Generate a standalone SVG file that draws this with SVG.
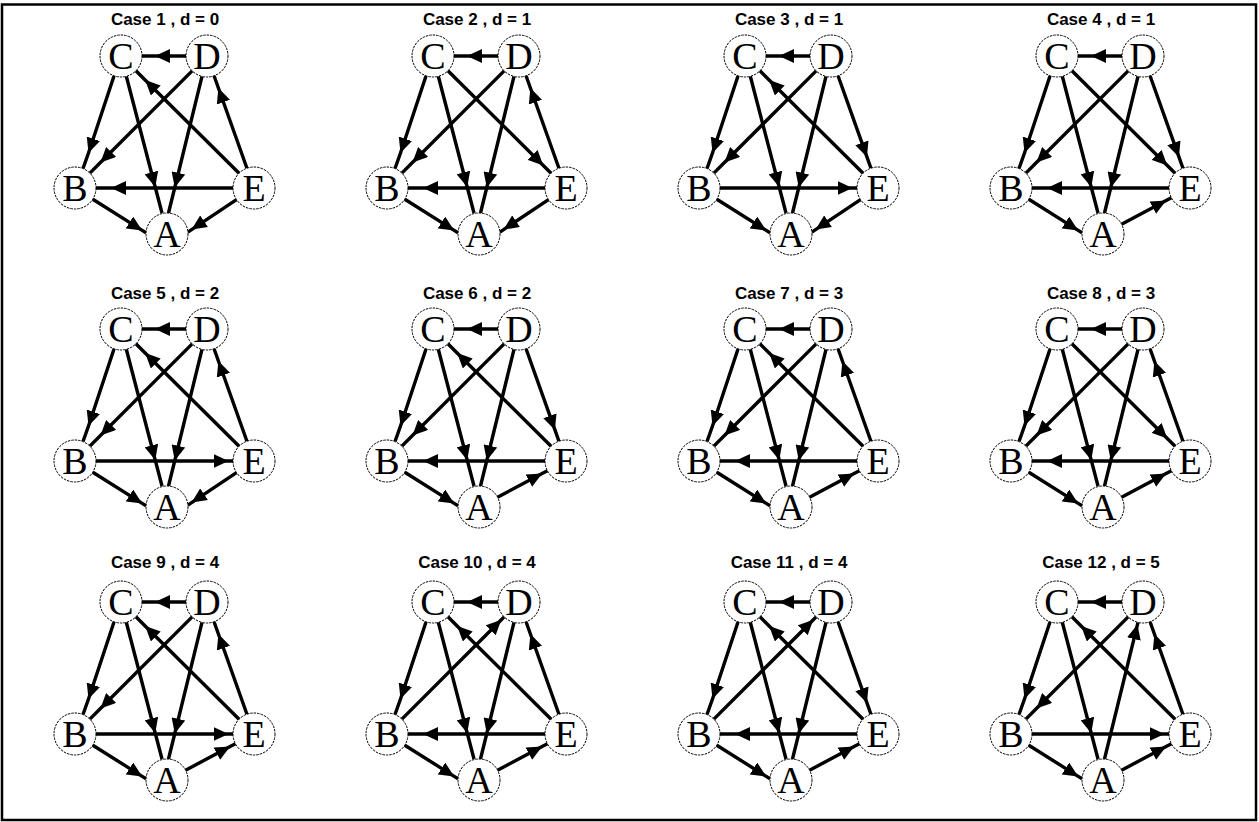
<svg xmlns="http://www.w3.org/2000/svg" width="1259" height="822" viewBox="0 0 1259 822">
<style>
.e{fill:none;stroke:#000;stroke-width:3.4;marker-mid:url(#ah)}
.n circle{fill:#fff;stroke:#000;stroke-width:1;stroke-dasharray:2.5 1}
.n text{font-family:"Liberation Serif","Times New Roman",serif;font-size:38px;text-anchor:middle;fill:#000}
.t{font-family:"Liberation Sans",Arial,sans-serif;font-weight:bold;font-size:17px;text-anchor:middle;fill:#000}
</style>
<defs>
<marker id="ah" markerUnits="userSpaceOnUse" markerWidth="15" markerHeight="14" refX="15" refY="7" orient="auto" viewBox="0 0 15 14"><path d="M0,0L15,7L0,14z" fill="#000"/></marker>
</defs>
<rect x="2" y="4.5" width="1254" height="815.5" fill="#fff" stroke="#000" stroke-width="2.5"/>

<g id="case1">
<text class="t" x="165" y="24.5">Case 1 , d = 0</text>
<g id="case1-edges">
<path class="e" d="M186,56L155,56L142,56"/>
<path class="e" d="M114.09,75.83L88.5,153L83,168.5"/>
<path class="e" d="M126.3,76.3L155.2,187L162,213"/>
<path class="e" d="M239.09,173.21L145.13,79.95L135.91,70.79"/>
<path class="e" d="M192.15,70.85L100.46,162.54L89.85,173.15"/>
<path class="e" d="M202,76.4L174.8,187.5L168.5,213"/>
<path class="e" d="M246.96,168.22L218.4,88.03L214.04,75.78"/>
<path class="e" d="M233,188L111,188L96,188"/>
<path class="e" d="M92.8,199.2L142.2,230.4L146.1,232.8"/>
<path class="e" d="M236.5,199.6L191.6,229.6L187.9,232.1"/>
</g>
<g id="case1-C" class="n"><circle cx="121" cy="56" r="21"/><text x="121" y="69">C</text></g>
<g id="case1-D" class="n"><circle cx="207" cy="56" r="21"/><text x="207" y="69">D</text></g>
<g id="case1-B" class="n"><circle cx="75" cy="188" r="21"/><text x="75" y="201">B</text></g>
<g id="case1-E" class="n"><circle cx="254" cy="188" r="21"/><text x="254" y="201">E</text></g>
<g id="case1-A" class="n"><circle cx="167" cy="234" r="21"/><text x="167" y="247">A</text></g>
</g>

<g id="case2" transform="translate(312,0)">
<text class="t" x="165" y="24.5">Case 2 , d = 1</text>
<g id="case2-edges">
<path class="e" d="M186,56L155,56L142,56"/>
<path class="e" d="M114.09,75.83L88.5,153L83,168.5"/>
<path class="e" d="M126.3,76.3L155.2,187L162,213"/>
<path class="e" d="M135.91,70.79L231.29,165.46L239.09,173.21"/>
<path class="e" d="M192.15,70.85L100.46,162.54L89.85,173.15"/>
<path class="e" d="M202,76.4L174.8,187.5L168.5,213"/>
<path class="e" d="M246.96,168.22L218.4,88.03L214.04,75.78"/>
<path class="e" d="M233,188L111,188L96,188"/>
<path class="e" d="M92.8,199.2L142.2,230.4L146.1,232.8"/>
<path class="e" d="M236.5,199.6L191.6,229.6L187.9,232.1"/>
</g>
<g id="case2-C" class="n"><circle cx="121" cy="56" r="21"/><text x="121" y="69">C</text></g>
<g id="case2-D" class="n"><circle cx="207" cy="56" r="21"/><text x="207" y="69">D</text></g>
<g id="case2-B" class="n"><circle cx="75" cy="188" r="21"/><text x="75" y="201">B</text></g>
<g id="case2-E" class="n"><circle cx="254" cy="188" r="21"/><text x="254" y="201">E</text></g>
<g id="case2-A" class="n"><circle cx="167" cy="234" r="21"/><text x="167" y="247">A</text></g>
</g>

<g id="case3" transform="translate(624,0)">
<text class="t" x="165" y="24.5">Case 3 , d = 1</text>
<g id="case3-edges">
<path class="e" d="M186,56L155,56L142,56"/>
<path class="e" d="M114.09,75.83L88.5,153L83,168.5"/>
<path class="e" d="M126.3,76.3L155.2,187L162,213"/>
<path class="e" d="M239.09,173.21L145.13,79.95L135.91,70.79"/>
<path class="e" d="M192.15,70.85L100.46,162.54L89.85,173.15"/>
<path class="e" d="M202,76.4L174.8,187.5L168.5,213"/>
<path class="e" d="M214.04,75.78L242.93,156.91L246.96,168.22"/>
<path class="e" d="M96,188L228.5,188L233,188"/>
<path class="e" d="M92.8,199.2L142.2,230.4L146.1,232.8"/>
<path class="e" d="M236.5,199.6L191.6,229.6L187.9,232.1"/>
</g>
<g id="case3-C" class="n"><circle cx="121" cy="56" r="21"/><text x="121" y="69">C</text></g>
<g id="case3-D" class="n"><circle cx="207" cy="56" r="21"/><text x="207" y="69">D</text></g>
<g id="case3-B" class="n"><circle cx="75" cy="188" r="21"/><text x="75" y="201">B</text></g>
<g id="case3-E" class="n"><circle cx="254" cy="188" r="21"/><text x="254" y="201">E</text></g>
<g id="case3-A" class="n"><circle cx="167" cy="234" r="21"/><text x="167" y="247">A</text></g>
</g>

<g id="case4" transform="translate(936,0)">
<text class="t" x="165" y="24.5">Case 4 , d = 1</text>
<g id="case4-edges">
<path class="e" d="M186,56L155,56L142,56"/>
<path class="e" d="M114.09,75.83L88.5,153L83,168.5"/>
<path class="e" d="M126.3,76.3L155.2,187L162,213"/>
<path class="e" d="M135.91,70.79L231.29,165.46L239.09,173.21"/>
<path class="e" d="M192.15,70.85L100.46,162.54L89.85,173.15"/>
<path class="e" d="M202,76.4L174.8,187.5L168.5,213"/>
<path class="e" d="M214.04,75.78L242.93,156.91L246.96,168.22"/>
<path class="e" d="M233,188L111,188L96,188"/>
<path class="e" d="M92.8,199.2L142.2,230.4L146.1,232.8"/>
<path class="e" d="M185.57,224.18L230.13,200.62L235.43,197.82"/>
</g>
<g id="case4-C" class="n"><circle cx="121" cy="56" r="21"/><text x="121" y="69">C</text></g>
<g id="case4-D" class="n"><circle cx="207" cy="56" r="21"/><text x="207" y="69">D</text></g>
<g id="case4-B" class="n"><circle cx="75" cy="188" r="21"/><text x="75" y="201">B</text></g>
<g id="case4-E" class="n"><circle cx="254" cy="188" r="21"/><text x="254" y="201">E</text></g>
<g id="case4-A" class="n"><circle cx="167" cy="234" r="21"/><text x="167" y="247">A</text></g>
</g>

<g id="case5" transform="translate(0,273)">
<text class="t" x="165" y="25.5">Case 5 , d = 2</text>
<g id="case5-edges">
<path class="e" d="M186,56L155,56L142,56"/>
<path class="e" d="M114.09,75.83L88.5,153L83,168.5"/>
<path class="e" d="M126.3,76.3L155.2,187L162,213"/>
<path class="e" d="M239.09,173.21L145.13,79.95L135.91,70.79"/>
<path class="e" d="M192.15,70.85L100.46,162.54L89.85,173.15"/>
<path class="e" d="M202,76.4L174.8,187.5L168.5,213"/>
<path class="e" d="M246.96,168.22L218.4,88.03L214.04,75.78"/>
<path class="e" d="M96,188L228.5,188L233,188"/>
<path class="e" d="M92.8,199.2L142.2,230.4L146.1,232.8"/>
<path class="e" d="M236.5,199.6L191.6,229.6L187.9,232.1"/>
</g>
<g id="case5-C" class="n"><circle cx="121" cy="56" r="21"/><text x="121" y="69">C</text></g>
<g id="case5-D" class="n"><circle cx="207" cy="56" r="21"/><text x="207" y="69">D</text></g>
<g id="case5-B" class="n"><circle cx="75" cy="188" r="21"/><text x="75" y="201">B</text></g>
<g id="case5-E" class="n"><circle cx="254" cy="188" r="21"/><text x="254" y="201">E</text></g>
<g id="case5-A" class="n"><circle cx="167" cy="234" r="21"/><text x="167" y="247">A</text></g>
</g>

<g id="case6" transform="translate(312,273)">
<text class="t" x="165" y="25.5">Case 6 , d = 2</text>
<g id="case6-edges">
<path class="e" d="M186,56L155,56L142,56"/>
<path class="e" d="M114.09,75.83L88.5,153L83,168.5"/>
<path class="e" d="M126.3,76.3L155.2,187L162,213"/>
<path class="e" d="M239.09,173.21L145.13,79.95L135.91,70.79"/>
<path class="e" d="M192.15,70.85L100.46,162.54L89.85,173.15"/>
<path class="e" d="M202,76.4L174.8,187.5L168.5,213"/>
<path class="e" d="M214.04,75.78L242.93,156.91L246.96,168.22"/>
<path class="e" d="M233,188L111,188L96,188"/>
<path class="e" d="M92.8,199.2L142.2,230.4L146.1,232.8"/>
<path class="e" d="M185.57,224.18L230.13,200.62L235.43,197.82"/>
</g>
<g id="case6-C" class="n"><circle cx="121" cy="56" r="21"/><text x="121" y="69">C</text></g>
<g id="case6-D" class="n"><circle cx="207" cy="56" r="21"/><text x="207" y="69">D</text></g>
<g id="case6-B" class="n"><circle cx="75" cy="188" r="21"/><text x="75" y="201">B</text></g>
<g id="case6-E" class="n"><circle cx="254" cy="188" r="21"/><text x="254" y="201">E</text></g>
<g id="case6-A" class="n"><circle cx="167" cy="234" r="21"/><text x="167" y="247">A</text></g>
</g>

<g id="case7" transform="translate(624,273)">
<text class="t" x="165" y="25.5">Case 7 , d = 3</text>
<g id="case7-edges">
<path class="e" d="M186,56L155,56L142,56"/>
<path class="e" d="M114.09,75.83L88.5,153L83,168.5"/>
<path class="e" d="M126.3,76.3L155.2,187L162,213"/>
<path class="e" d="M239.09,173.21L145.13,79.95L135.91,70.79"/>
<path class="e" d="M192.15,70.85L100.46,162.54L89.85,173.15"/>
<path class="e" d="M202,76.4L174.8,187.5L168.5,213"/>
<path class="e" d="M246.96,168.22L218.4,88.03L214.04,75.78"/>
<path class="e" d="M233,188L111,188L96,188"/>
<path class="e" d="M92.8,199.2L142.2,230.4L146.1,232.8"/>
<path class="e" d="M185.57,224.18L230.13,200.62L235.43,197.82"/>
</g>
<g id="case7-C" class="n"><circle cx="121" cy="56" r="21"/><text x="121" y="69">C</text></g>
<g id="case7-D" class="n"><circle cx="207" cy="56" r="21"/><text x="207" y="69">D</text></g>
<g id="case7-B" class="n"><circle cx="75" cy="188" r="21"/><text x="75" y="201">B</text></g>
<g id="case7-E" class="n"><circle cx="254" cy="188" r="21"/><text x="254" y="201">E</text></g>
<g id="case7-A" class="n"><circle cx="167" cy="234" r="21"/><text x="167" y="247">A</text></g>
</g>

<g id="case8" transform="translate(936,273)">
<text class="t" x="165" y="25.5">Case 8 , d = 3</text>
<g id="case8-edges">
<path class="e" d="M186,56L155,56L142,56"/>
<path class="e" d="M114.09,75.83L88.5,153L83,168.5"/>
<path class="e" d="M126.3,76.3L155.2,187L162,213"/>
<path class="e" d="M135.91,70.79L231.29,165.46L239.09,173.21"/>
<path class="e" d="M192.15,70.85L100.46,162.54L89.85,173.15"/>
<path class="e" d="M202,76.4L174.8,187.5L168.5,213"/>
<path class="e" d="M246.96,168.22L218.4,88.03L214.04,75.78"/>
<path class="e" d="M233,188L111,188L96,188"/>
<path class="e" d="M92.8,199.2L142.2,230.4L146.1,232.8"/>
<path class="e" d="M185.57,224.18L230.13,200.62L235.43,197.82"/>
</g>
<g id="case8-C" class="n"><circle cx="121" cy="56" r="21"/><text x="121" y="69">C</text></g>
<g id="case8-D" class="n"><circle cx="207" cy="56" r="21"/><text x="207" y="69">D</text></g>
<g id="case8-B" class="n"><circle cx="75" cy="188" r="21"/><text x="75" y="201">B</text></g>
<g id="case8-E" class="n"><circle cx="254" cy="188" r="21"/><text x="254" y="201">E</text></g>
<g id="case8-A" class="n"><circle cx="167" cy="234" r="21"/><text x="167" y="247">A</text></g>
</g>

<g id="case9" transform="translate(0,546)">
<text class="t" x="165" y="21.5">Case 9 , d = 4</text>
<g id="case9-edges">
<path class="e" d="M186,56L155,56L142,56"/>
<path class="e" d="M114.09,75.83L88.5,153L83,168.5"/>
<path class="e" d="M126.3,76.3L155.2,187L162,213"/>
<path class="e" d="M239.09,173.21L145.13,79.95L135.91,70.79"/>
<path class="e" d="M192.15,70.85L100.46,162.54L89.85,173.15"/>
<path class="e" d="M202,76.4L174.8,187.5L168.5,213"/>
<path class="e" d="M246.96,168.22L218.4,88.03L214.04,75.78"/>
<path class="e" d="M96,188L228.5,188L233,188"/>
<path class="e" d="M92.8,199.2L142.2,230.4L146.1,232.8"/>
<path class="e" d="M185.57,224.18L230.13,200.62L235.43,197.82"/>
</g>
<g id="case9-C" class="n"><circle cx="121" cy="56" r="21"/><text x="121" y="69">C</text></g>
<g id="case9-D" class="n"><circle cx="207" cy="56" r="21"/><text x="207" y="69">D</text></g>
<g id="case9-B" class="n"><circle cx="75" cy="188" r="21"/><text x="75" y="201">B</text></g>
<g id="case9-E" class="n"><circle cx="254" cy="188" r="21"/><text x="254" y="201">E</text></g>
<g id="case9-A" class="n"><circle cx="167" cy="234" r="21"/><text x="167" y="247">A</text></g>
</g>

<g id="case10" transform="translate(312,546)">
<text class="t" x="165" y="21.5">Case 10 , d = 4</text>
<g id="case10-edges">
<path class="e" d="M186,56L155,56L142,56"/>
<path class="e" d="M114.09,75.83L88.5,153L83,168.5"/>
<path class="e" d="M126.3,76.3L155.2,187L162,213"/>
<path class="e" d="M239.09,173.21L145.13,79.95L135.91,70.79"/>
<path class="e" d="M89.85,173.15L189.32,73.68L192.15,70.85"/>
<path class="e" d="M202,76.4L174.8,187.5L168.5,213"/>
<path class="e" d="M246.96,168.22L218.4,88.03L214.04,75.78"/>
<path class="e" d="M233,188L111,188L96,188"/>
<path class="e" d="M92.8,199.2L142.2,230.4L146.1,232.8"/>
<path class="e" d="M185.57,224.18L230.13,200.62L235.43,197.82"/>
</g>
<g id="case10-C" class="n"><circle cx="121" cy="56" r="21"/><text x="121" y="69">C</text></g>
<g id="case10-D" class="n"><circle cx="207" cy="56" r="21"/><text x="207" y="69">D</text></g>
<g id="case10-B" class="n"><circle cx="75" cy="188" r="21"/><text x="75" y="201">B</text></g>
<g id="case10-E" class="n"><circle cx="254" cy="188" r="21"/><text x="254" y="201">E</text></g>
<g id="case10-A" class="n"><circle cx="167" cy="234" r="21"/><text x="167" y="247">A</text></g>
</g>

<g id="case11" transform="translate(624,546)">
<text class="t" x="165" y="21.5">Case 11 , d = 4</text>
<g id="case11-edges">
<path class="e" d="M186,56L155,56L142,56"/>
<path class="e" d="M114.09,75.83L88.5,153L83,168.5"/>
<path class="e" d="M126.3,76.3L155.2,187L162,213"/>
<path class="e" d="M239.09,173.21L145.13,79.95L135.91,70.79"/>
<path class="e" d="M89.85,173.15L189.32,73.68L192.15,70.85"/>
<path class="e" d="M202,76.4L174.8,187.5L168.5,213"/>
<path class="e" d="M214.04,75.78L242.93,156.91L246.96,168.22"/>
<path class="e" d="M233,188L111,188L96,188"/>
<path class="e" d="M92.8,199.2L142.2,230.4L146.1,232.8"/>
<path class="e" d="M185.57,224.18L230.13,200.62L235.43,197.82"/>
</g>
<g id="case11-C" class="n"><circle cx="121" cy="56" r="21"/><text x="121" y="69">C</text></g>
<g id="case11-D" class="n"><circle cx="207" cy="56" r="21"/><text x="207" y="69">D</text></g>
<g id="case11-B" class="n"><circle cx="75" cy="188" r="21"/><text x="75" y="201">B</text></g>
<g id="case11-E" class="n"><circle cx="254" cy="188" r="21"/><text x="254" y="201">E</text></g>
<g id="case11-A" class="n"><circle cx="167" cy="234" r="21"/><text x="167" y="247">A</text></g>
</g>

<g id="case12" transform="translate(936,546)">
<text class="t" x="165" y="21.5">Case 12 , d = 5</text>
<g id="case12-edges">
<path class="e" d="M186,56L155,56L142,56"/>
<path class="e" d="M114.09,75.83L88.5,153L83,168.5"/>
<path class="e" d="M126.3,76.3L155.2,187L162,213"/>
<path class="e" d="M239.09,173.21L145.13,79.95L135.91,70.79"/>
<path class="e" d="M192.15,70.85L100.46,162.54L89.85,173.15"/>
<path class="e" d="M168.5,213L201.5,78.4L202,76.4"/>
<path class="e" d="M246.96,168.22L218.4,88.03L214.04,75.78"/>
<path class="e" d="M96,188L228.5,188L233,188"/>
<path class="e" d="M92.8,199.2L142.2,230.4L146.1,232.8"/>
<path class="e" d="M185.57,224.18L230.13,200.62L235.43,197.82"/>
</g>
<g id="case12-C" class="n"><circle cx="121" cy="56" r="21"/><text x="121" y="69">C</text></g>
<g id="case12-D" class="n"><circle cx="207" cy="56" r="21"/><text x="207" y="69">D</text></g>
<g id="case12-B" class="n"><circle cx="75" cy="188" r="21"/><text x="75" y="201">B</text></g>
<g id="case12-E" class="n"><circle cx="254" cy="188" r="21"/><text x="254" y="201">E</text></g>
<g id="case12-A" class="n"><circle cx="167" cy="234" r="21"/><text x="167" y="247">A</text></g>
</g>
</svg>
